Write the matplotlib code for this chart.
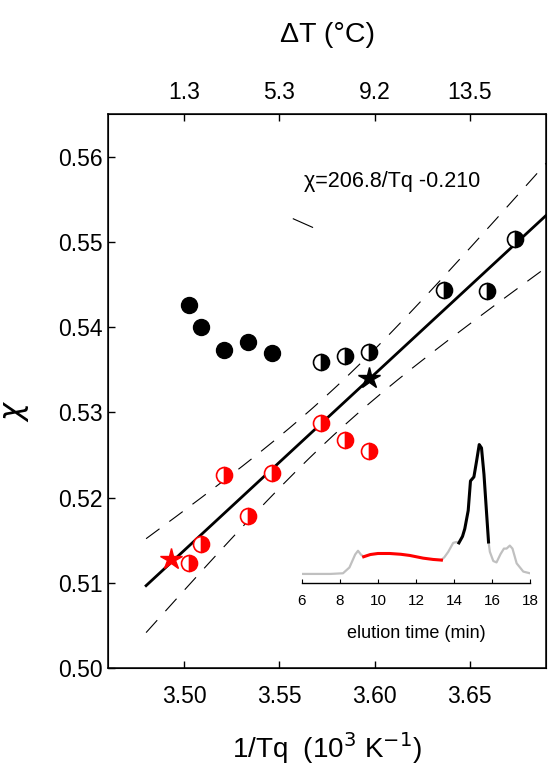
import numpy as np
import matplotlib.pyplot as plt

plt.rcParams['font.family'] = ['Liberation Sans', 'DejaVu Sans']

# main data (1/Tq in 10^3 K^-1, chi)
x_black = [3.5025, 3.5088, 3.5211, 3.5337, 3.5462]
y_black = [0.5426, 0.5400, 0.5373, 0.5382, 0.5369]
x_black_half = [3.5717, 3.5844, 3.5973, 3.6364, 3.6591, 3.6739]
y_black_half = [0.5359, 0.5366, 0.5371, 0.5443, 0.5442, 0.5503]
x_red_half = [3.5025, 3.5090, 3.5211, 3.5337, 3.5462, 3.5717, 3.5844, 3.5973]
y_red_half = [0.5123, 0.5145, 0.5226, 0.5178, 0.5229, 0.5287, 0.5267, 0.5255]
star_black = (3.5973, 0.5340)
star_red = (3.4933, 0.5128)

# fit chi = 206.8/Tq - 0.210 and its confidence band
slope, intercept = 0.2068, -0.210
band_center, band_w0, band_b = 3.578, 0.0027, 2.4e-3

top_ticks = [3.50, 3.55, 3.60, 3.65]
top_labels = ['1.3', '5.3', '9.2', '13.5']

# inset chromatogram (time in min, normalised signal)
t_gray1 = [6.0, 7.5, 8.16, 8.5, 8.8, 8.95, 9.1, 9.25]
s_gray1 = [0.0, 0.0, 0.005, 0.05, 0.15, 0.179, 0.15, 0.133]
t_red = [9.25, 9.6, 10.0, 10.62, 11.2, 11.67, 12.38, 12.9, 13.34]
s_red = [0.133, 0.15, 0.158, 0.158, 0.152, 0.143, 0.122, 0.112, 0.107]
t_gray2 = [13.34, 13.5, 13.7, 13.96, 14.13, 14.26]
s_gray2 = [0.107, 0.13, 0.171, 0.240, 0.247, 0.240]
t_black = [14.26, 14.45, 14.57, 14.75, 14.87, 15.05, 15.19, 15.33, 15.45, 15.58, 15.72, 15.82]
s_black = [0.240, 0.29, 0.349, 0.49, 0.719, 0.75, 0.872, 1.0, 0.974, 0.77, 0.464, 0.247]
t_gray3 = [15.82, 15.89, 16.07, 16.24, 16.45, 16.63, 16.77, 16.94, 17.08, 17.3, 17.65, 18.0]
s_gray3 = [0.247, 0.171, 0.10, 0.089, 0.153, 0.196, 0.196, 0.219, 0.196, 0.082, 0.018, 0.005]

fig = plt.figure(figsize=(5.51, 7.69), dpi=100)
ax = fig.add_axes([0.196, 0.1313, 0.795, 0.7205])

xx = np.linspace(3.48, 3.69, 200)
fit = slope * xx + intercept
half = np.sqrt(band_w0 ** 2 + band_b * (xx - band_center) ** 2)
ax.plot(xx, fit, color='black', lw=2.0, zorder=3)
ax.plot(xx, fit + half, color='black', lw=0.8, dashes=(15, 11), zorder=2)
ax.plot(xx, fit - half, color='black', lw=0.8, dashes=(15, 11), zorder=2)

ms = 11.5
ax.plot(x_black, y_black, 'o', ms=ms, color='black', zorder=4)
ax.plot(x_black_half, y_black_half, 'o', ms=ms, color='black', fillstyle='right',
        markerfacecoloralt='white', mec='black', mew=1.2, zorder=4)
ax.plot(x_red_half, y_red_half, 'o', ms=ms, color='red', fillstyle='right',
        markerfacecoloralt='white', mec='red', mew=1.2, zorder=4)
ax.plot(*star_black, '*', ms=16, color='black', zorder=5)
ax.plot(*star_red, '*', ms=16, color='red', zorder=5)

ax.text(3.5629, 0.5571, '\u03c7=206.8/Tq -0.210', fontsize=15.5, va='center')
ax.plot([3.5573, 3.5674], [0.5527, 0.5517], color='black', lw=0.8)

ax.set_xlim(3.46, 3.69)
ax.set_ylim(0.50, 0.565)
ax.set_xticks([3.50, 3.55, 3.60, 3.65])
ax.set_yticks(np.arange(0.50, 0.5601, 0.01))
ax.xaxis.set_major_formatter(plt.FormatStrFormatter('%.2f'))
ax.yaxis.set_major_formatter(plt.FormatStrFormatter('%.2f'))
ax.tick_params(direction='in', length=5, width=1, labelsize=16.5)
ax.tick_params(axis='x', pad=12)
ax.tick_params(axis='y', pad=4)
for sp in ax.spines.values():
    sp.set_linewidth(1.1)
ax.set_xlabel('1/Tq  (10$^{3}$ K$^{-1}$)', fontsize=20, labelpad=16)
ax.set_ylabel('$\\chi$', fontsize=22, rotation=90)
ax.yaxis.set_label_coords(-0.175, 0.465)

ax2 = ax.twiny()
ax2.set_xlim(ax.get_xlim())
ax2.set_xticks(top_ticks)
ax2.set_xticklabels(top_labels)
ax2.tick_params(direction='in', length=5, width=1, labelsize=16.5, pad=7)
ax2.set_xlabel('\u0394T (\u00b0C)', fontsize=20.5, labelpad=28)

ins = fig.add_axes([0.548, 0.2419, 0.4138, 0.185])
ins.plot(t_gray1, s_gray1, color='#c0c0c0', lw=1.6)
ins.plot(t_gray2, s_gray2, color='#c0c0c0', lw=1.6)
ins.plot(t_gray3, s_gray3, color='#c0c0c0', lw=1.6)
ins.plot(t_red, s_red, color='red', lw=2.2)
ins.plot(t_black, s_black, color='black', lw=2.2)
ins.set_xlim(6, 18)
ins.set_ylim(-0.07, 1.03)
ins.set_xticks(np.arange(6, 19, 2))
ins.set_yticks([])
for s in ['top', 'right', 'left']:
    ins.spines[s].set_visible(False)
ins.spines['bottom'].set_linewidth(1.0)
ins.tick_params(axis='x', direction='in', length=3, labelsize=11, pad=8)
ins.set_xlabel('elution time (min)', fontsize=13, labelpad=12)
ins.patch.set_alpha(0)

fig.savefig('out.png', dpi=100)
